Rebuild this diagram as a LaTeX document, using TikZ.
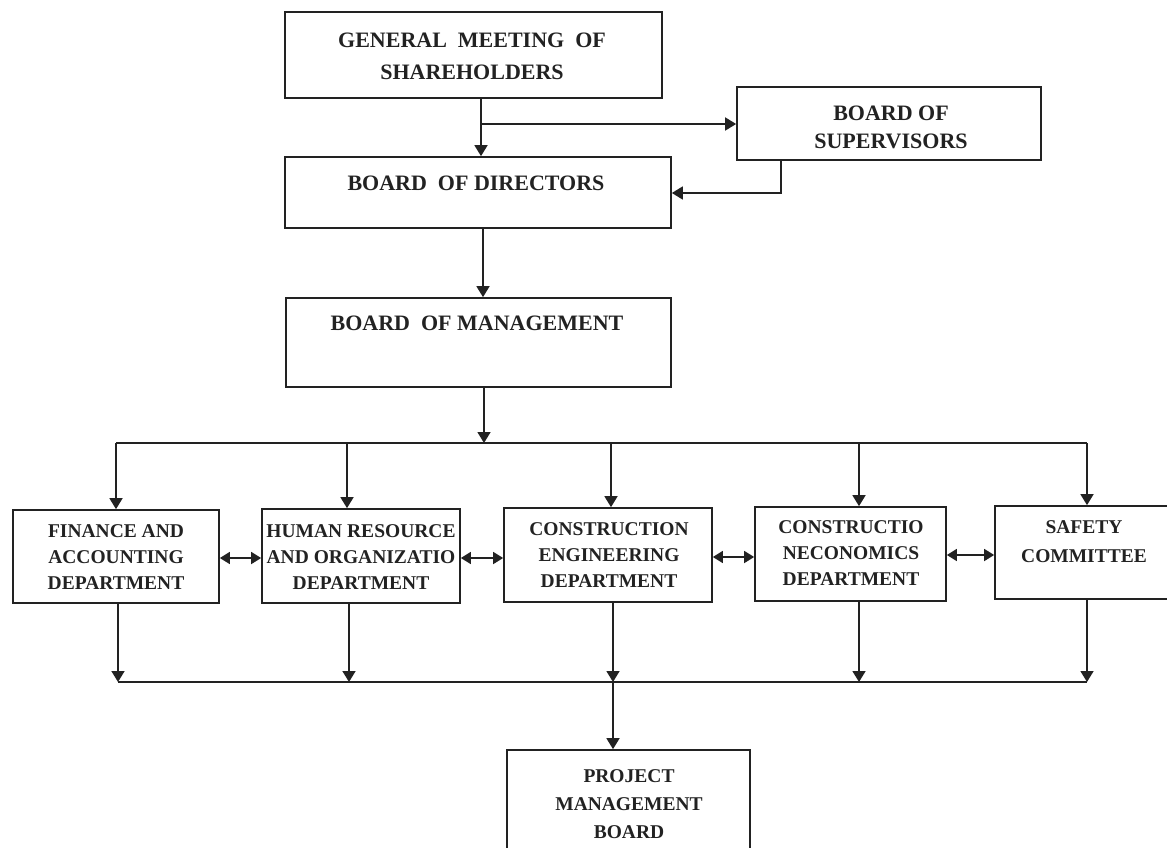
\documentclass[tikz,border=0pt]{standalone}
\usepackage{fontspec}
\setmainfont{Liberation Serif}
\usetikzlibrary{arrows.meta}
\definecolor{ink}{HTML}{222222}
\tikzset{
  box/.style={draw=ink, line width=1.7pt, inner sep=0pt, fill=white},
  toplbl/.style={align=center, text=ink, inner sep=0pt, font=\bfseries\fontsize{22}{32}\selectfont},
  deplbl/.style={align=center, text=ink, inner sep=0pt, font=\bfseries\fontsize{19.5}{26}\selectfont},
  ln/.style={draw=ink, line width=1.6pt},
  arr/.style={ln, -{Triangle[length=11pt,width=13pt]}},
  darr/.style={ln, {Triangle[length=10pt,width=12pt]}-{Triangle[length=10pt,width=12pt]}},
}
\begin{document}
\begin{tikzpicture}[x=1pt,y=-1pt]
\useasboundingbox (0,0) rectangle (1167,848);
\fill[white] (0,0) rectangle (1167,848);
\clip (0,0) rectangle (1167,848);
% boxes
\node[box, minimum width=377pt, minimum height=86pt] (gms) at (473.5,55) {};
\node[box, minimum width=304pt, minimum height=73pt] (sup) at (889,123.5) {};
\node[box, minimum width=386pt, minimum height=71pt] (bod) at (478,192.5) {};
\node[box, minimum width=385pt, minimum height=89pt] (bom) at (478.5,342.5) {};
\node[box, minimum width=206pt, minimum height=93pt] (fin) at (116,556.5) {};
\node[box, minimum width=198pt, minimum height=94pt] (hr) at (361,556) {};
\node[box, minimum width=208pt, minimum height=94pt] (ce) at (608,555) {};
\node[box, minimum width=191pt, minimum height=94pt] (cec) at (850.5,554) {};
\node[box, minimum width=190pt, minimum height=93pt] (saf) at (1090,552.5) {};
\node[box, minimum width=243pt, minimum height=130pt] (pmb) at (628.5,815) {};
% labels
\node[toplbl] (tgms) at (472,56) {GENERAL\ \ MEETING\ \ OF\\SHAREHOLDERS};
\node[toplbl, font=\bfseries\fontsize{22}{28}\selectfont] (tsup) at (891,127) {BOARD OF\\SUPERVISORS};
\node[toplbl] (tbod) at (476,183) {BOARD\ \ OF DIRECTORS};
\node[toplbl] (tbom) at (477,323) {BOARD\ \ OF MANAGEMENT};
\node[deplbl] (tfin) at (116,557.5) {FINANCE AND\\ACCOUNTING\\DEPARTMENT};
\node[deplbl] (thr) at (361,557.5) {HUMAN RESOURCE\\AND ORGANIZATIO\\DEPARTMENT};
\node[deplbl] (tce) at (609,555) {CONSTRUCTION\\ENGINEERING\\DEPARTMENT};
\node[deplbl] (tcec) at (851,553.5) {CONSTRUCTIO\\NECONOMICS\\DEPARTMENT};
\node[deplbl, font=\bfseries\fontsize{19.5}{29}\selectfont] (tsaf) at (1084,541.5) {SAFETY\\COMMITTEE};
\node[deplbl, font=\bfseries\fontsize{19.5}{28}\selectfont] (tpmb) at (629,804) {PROJECT\\MANAGEMENT\\BOARD};
% top connectors
\coordinate (j1) at (481,124);
\draw[arr] (gms.south -| j1) -- (bod.north -| j1);
\draw[arr] (j1) -- (sup.west |- j1);
\coordinate (j2) at (781,193);
\draw[arr] (sup.south -| j2) -- (j2) -- (bod.east |- j2);
\coordinate (j3) at (483,0);
\draw[arr] (bod.south -| j3) -- (bom.north -| j3);
% upper bus
\coordinate (busTL) at (116,443);
\coordinate (busTR) at (1087,443);
\coordinate (busTM) at (484,443);
\draw[arr] (bom.south -| busTM) -- (busTM);
\draw[ln] (busTL) -- (busTR);
\coordinate (d1) at (116,443);
\coordinate (d2) at (347,443);
\coordinate (d3) at (611,443);
\coordinate (d4) at (859,443);
\coordinate (d5) at (1087,443);
\draw[arr] (d1) -- (d1 |- fin.north);
\draw[arr] (d2) -- (d2 |- hr.north);
\draw[arr] (d3) -- (d3 |- ce.north);
\draw[arr] (d4) -- (d4 |- cec.north);
\draw[arr] (d5) -- (d5 |- saf.north);
% lateral double arrows
\draw[darr] (fin.east |- 0,558) -- (hr.west |- 0,558);
\draw[darr] (hr.east |- 0,558) -- (ce.west |- 0,558);
\draw[darr] (ce.east |- 0,557) -- (cec.west |- 0,557);
\draw[darr] (cec.east |- 0,555) -- (saf.west |- 0,555);
% lower bus
\coordinate (b1) at (118,682);
\coordinate (b2) at (349,682);
\coordinate (b3) at (613,682);
\coordinate (b4) at (859,682);
\coordinate (b5) at (1087,682);
\draw[ln] (b1) -- (b5);
\draw[arr] (b1 |- fin.south) -- (b1);
\draw[arr] (b2 |- hr.south) -- (b2);
\draw[arr] (b3 |- ce.south) -- (b3);
\draw[arr] (b4 |- cec.south) -- (b4);
\draw[arr] (b5 |- saf.south) -- (b5);
\draw[arr] (b3) -- (b3 |- pmb.north);
\end{tikzpicture}
\end{document}
